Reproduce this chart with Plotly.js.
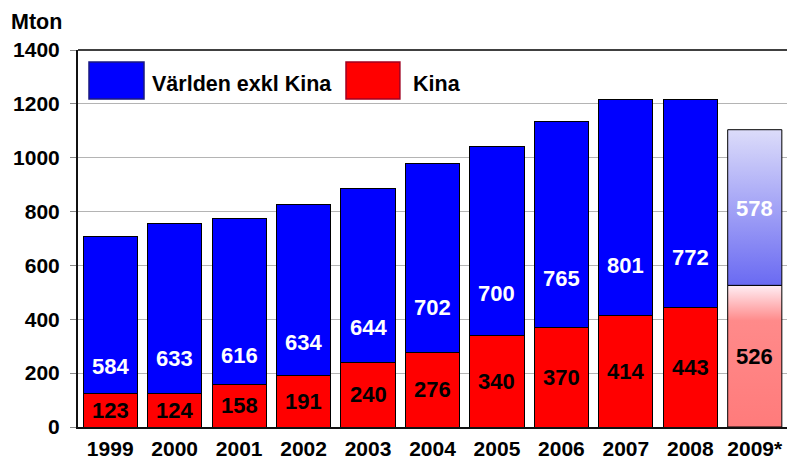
<!DOCTYPE html>
<html>
<head>
<meta charset="utf-8">
<script src="https://cdn.plot.ly/plotly-3.0.1.min.js"></script>
<style>html,body{margin:0;padding:0;background:#fff;overflow:hidden}</style>
</head>
<body>
<div id="chart" style="width:787px;height:461px"></div>
<script>
// ---- data ----
const years = ["1999","2000","2001","2002","2003","2004","2005","2006","2007","2008","2009*"];
const kina = [123,124,158,191,240,276,340,370,414,443,526];
const varlden = [584,633,616,634,644,702,700,765,801,772,578];
// vertical position (in Mton) of the white labels as placed in the original
const varldenLabelAt = [223,256,267,312,371,442,494,553,598,631,813];

const FONT = "Liberation Sans, Arial, sans-serif";
const idx = years.map((_, i) => i);
const last = years.length - 1;
const half = 0.42; // half of bar width in category units (bargap 0.16)

const clearLast = (c) => idx.map(i => i === last ? "rgba(0,0,0,0)" : c);
const lineW = idx.map(i => i === last ? 0 : 1);

const traces = [
  {type: "bar", x: idx, y: kina, name: "Kina", showlegend: false, hoverinfo: "skip",
   marker: {color: clearLast("#ff0000"), line: {color: "#000", width: lineW}}},
  {type: "bar", x: idx, y: varlden, name: "Världen exkl Kina", showlegend: false, hoverinfo: "skip",
   marker: {color: clearLast("#0000ff"), line: {color: "#000", width: lineW}}}
];

// gradient-filled forecast bar (2009*) built from the same data
const k9 = kina[last], t9 = kina[last] + varlden[last];
traces.push({
  type: "scatter", mode: "lines", showlegend: false, hoverinfo: "skip",
  x: [last - half, last + half, last + half, last - half, last - half],
  y: [0, 0, k9, k9, 0],
  fill: "toself", line: {color: "#000", width: 1},
  fillgradient: {type: "vertical", colorscale: [[0, "#ff7b7b"], [0.75, "#ff8a8a"], [1, "#ffeef4"]]}
});
traces.push({
  type: "scatter", mode: "lines", showlegend: false, hoverinfo: "skip",
  x: [last - half, last + half, last + half, last - half, last - half],
  y: [k9, k9, t9, t9, k9],
  fill: "toself", line: {color: "#000", width: 1},
  fillgradient: {type: "vertical", colorscale: [[0, "#6a6af2"], [1, "#dcdcfa"]]}
});

const annotations = [];
idx.forEach(i => {
  annotations.push({x: i, y: kina[i] / 2, xref: "x", yref: "y", text: String(kina[i]),
    showarrow: false, font: {family: FONT, size: 22, color: "#000", weight: "bold"}});
  annotations.push({x: i, y: varldenLabelAt[i], xref: "x", yref: "y", text: String(varlden[i]),
    showarrow: false, font: {family: FONT, size: 22, color: "#fff", weight: "bold"}});
});
annotations.push({x: -0.098, y: 1.074, xref: "paper", yref: "paper", xanchor: "left", yanchor: "middle",
  text: "Mton", showarrow: false, font: {family: FONT, size: 21.5, color: "#000", weight: "bold"}});
annotations.push({x: 0.102, y: 0.91, xref: "paper", yref: "paper", xanchor: "left", yanchor: "middle",
  text: "Världen exkl Kina", showarrow: false, font: {family: FONT, size: 21.5, color: "#000", weight: "bold"}});
annotations.push({x: 0.469, y: 0.91, xref: "paper", yref: "paper", xanchor: "left", yanchor: "middle",
  text: "Kina", showarrow: false, font: {family: FONT, size: 21.5, color: "#000", weight: "bold"}});

const shapes = [
  {type: "rect", xref: "paper", yref: "paper", x0: 0.0155, x1: 0.0931, y0: 0.870, y1: 0.968,
   fillcolor: "#0000ff", line: {color: "#1a1a80", width: 1.5}},
  {type: "rect", xref: "paper", yref: "paper", x0: 0.378, x1: 0.454, y0: 0.870, y1: 0.968,
   fillcolor: "#ff0000", line: {color: "#a00020", width: 1.5}},
  {type: "line", xref: "paper", yref: "paper", x0: 0, x1: 1, y0: 1, y1: 1,
   line: {color: "#404040", width: 2}}
];

const layout = {
  width: 787, height: 461,
  margin: {l: 78, r: 0, t: 50, b: 34},
  paper_bgcolor: "#fff", plot_bgcolor: "#fff",
  barmode: "stack", bargap: 0.16,
  showlegend: false,
  xaxis: {
    type: "linear", range: [-0.5, 10.5], tickvals: idx, ticktext: years,
    showgrid: false, zeroline: false, showline: true, linecolor: "#111", linewidth: 2,
    ticks: "", ticklabelstandoff: 2,
    tickfont: {family: FONT, size: 21, color: "#000", weight: "bold"}
  },
  yaxis: {
    range: [0, 1400], dtick: 200, tick0: 0,
    showgrid: true, gridcolor: "#b4b4b4", gridwidth: 1, zeroline: false,
    showline: true, linecolor: "#111", linewidth: 2,
    ticks: "outside", ticklen: 6, tickcolor: "#888", ticklabelstandoff: 6,
    tickfont: {family: FONT, size: 21, color: "#000", weight: "bold"}
  },
  annotations: annotations,
  shapes: shapes
};

Plotly.newPlot("chart", traces, layout, {displayModeBar: false, staticPlot: true});
</script>
</body>
</html>
